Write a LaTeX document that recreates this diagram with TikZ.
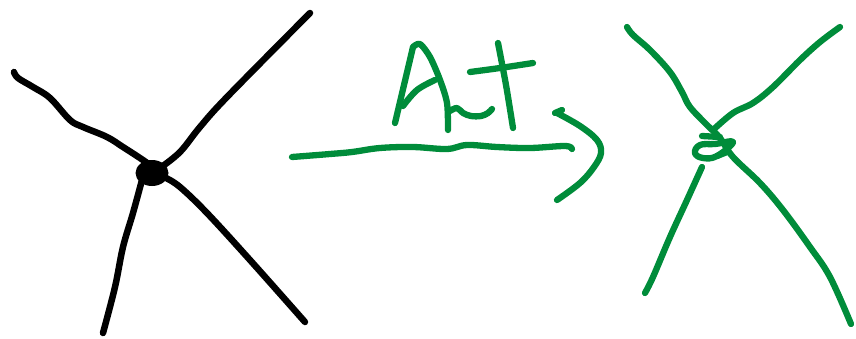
\documentclass[tikz,border=0pt]{standalone}
\definecolor{inkgreen}{RGB}{0,140,58}
\begin{document}
\begin{tikzpicture}[x=1pt,y=-1pt,
  blackink/.style={draw=black,line width=6.5pt,line cap=round,line join=round},
  greenink/.style={draw=inkgreen,line width=6.3pt,line cap=round,line join=round}]
\useasboundingbox (0,0) rectangle (856,338);
% black vertex
\fill[black] (152,173) ellipse [x radius=16.5, y radius=13];
\draw[blackink] plot[smooth,tension=0.6] coordinates {(14,72) (18,78) (33,87) (50,98) (70,120) (83,127) (107,137) (123,147) (140,158) (150,165)};
\draw[blackink] plot[smooth,tension=0.6] coordinates {(160,168) (180,152) (200,127) (227,97) (310,13)};
\draw[blackink] plot[smooth,tension=0.6] coordinates {(166,178) (180,187) (207,213) (250,260) (305,322)};
\draw[blackink] plot[smooth,tension=0.6] coordinates {(142,180) (133,213) (123,247) (115,287) (103,333)};
% Aut
\draw[greenink] plot[smooth,tension=0.5] coordinates {(395,123) (404,85) (413,47)};
\draw[greenink] plot[smooth,tension=0.5] coordinates {(413,47) (420,44) (430,57) (440,80) (447,103) (448,130)};
\draw[greenink] plot[smooth,tension=0.6] coordinates {(403,106) (417,90) (435,80)};
\draw[greenink] plot[smooth,tension=0.6] coordinates {(450,111) (457,108) (463,113) (471,116) (481,116) (488,113) (492,109)};
\draw[greenink] plot[smooth,tension=0.5] coordinates {(498,43) (506,85) (513,128)};
\draw[greenink] plot[smooth,tension=0.5] coordinates {(470,72) (500,68) (533,63)};
% arrow
\draw[greenink] plot[smooth,tension=0.6] coordinates {(292,157) (330,154) (352,152) (380,148) (413,147) (447,149) (467,145) (497,147) (530,148) (565,146) (572,149)};
\draw[greenink] (555,113) -- (562,110);
\draw[greenink] plot[smooth,tension=0.6] coordinates {(557,113) (580,126) (597,140) (601,153) (594,167) (580,183) (557,200)};
% green X with alpha
\draw[greenink] plot[smooth,tension=0.6] coordinates {(627,27) (633,35) (650,50) (670,72) (682,92) (690,107) (707,125) (720,138) (733,157) (760,183) (783,210) (810,247) (830,277) (851,324)};
\draw[greenink] plot[smooth,tension=0.6] coordinates {(840,27) (820,42) (800,60) (773,87) (753,103) (733,113) (713,130)};
\draw[greenink] (702,136) -- (720,137);
\draw[greenink] plot[smooth cycle,tension=0.7] coordinates {(733,142) (715,144) (700,145) (695,153) (703,158) (717,156)};
\draw[greenink] (717,156) -- (727,152);
\draw[greenink] plot[smooth,tension=0.6] coordinates {(702,167) (687,200) (670,237) (653,277) (645,293)};
\end{tikzpicture}
\end{document}
